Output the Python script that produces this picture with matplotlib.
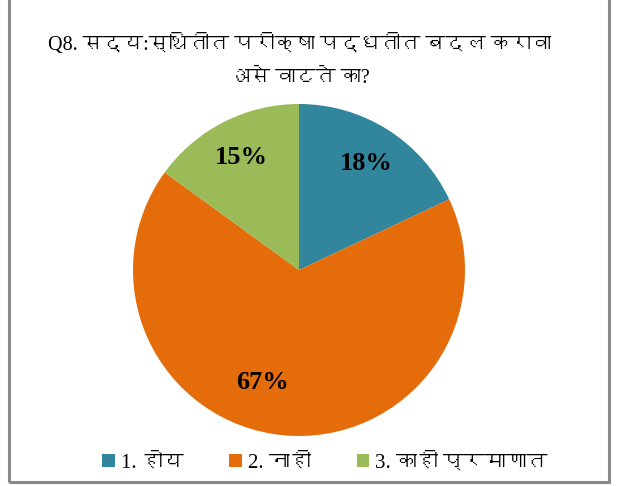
import numpy as np
import matplotlib
matplotlib.use('Agg')
import matplotlib.pyplot as plt
from matplotlib import font_manager
from matplotlib.ft2font import FT2Font
from matplotlib.patches import Rectangle

labels = ['1. होय', '2. नाही', '3. काही प्रमाणात']
shares = [18, 67, 15]
colors = ['#31859C', '#E46C0A', '#9BBB59']
title = 'Q8. सद्य:स्थितीत परीक्षा पद्धतीत बदल करावा\nअसे वाटते का?'


# find an installed family that can draw Devanagari
def devanagari_family():
	for f in font_manager.fontManager.ttflist:
		try:
			ft = FT2Font(f.fname)
			if ft.get_char_index(ord('क')) and ft.get_char_index(ord('ह')):
				return f.name
		except Exception:
			pass
	return None

deva = devanagari_family()
fams = ['Liberation Serif']
if deva:
	fams.append(deva)
fams.append('DejaVu Sans')
plt.rcParams['font.family'] = fams

fig = plt.figure(figsize=(6.19, 4.86), dpi=100)

# outer frame of the chart area
fig.patches.append(Rectangle((9/619, 1 - 482/486), 600/619, 1.0, transform=fig.transFigure,
	fill=False, edgecolor='#8a8a8a', linewidth=2.2))

ax = fig.add_axes([133/619, 50/486, 332/619, 332/486])
wedges, texts, autotexts = ax.pie(shares, colors=colors, startangle=90, counterclock=False,
	autopct='%d%%', pctdistance=0.76, radius=1,
	textprops=dict(fontsize=19, fontweight='bold', color='black', family=['Liberation Serif']))
ax.set_xlim(-1, 1)
ax.set_ylim(-1, 1)

# push the big slice label a little off the centre line
ang = np.deg2rad(-108)
autotexts[1].set_position((0.71*np.cos(ang), 0.71*np.sin(ang)))

fig.text(0.484, 1 - 61/486, title, ha='center', va='center', fontsize=14.5, linespacing=2.0)

leg = fig.legend(wedges, labels, loc='center', bbox_to_anchor=(0.525, 1 - 463/486), ncol=3,
	frameon=False, fontsize=15, handlelength=0.6, handleheight=0.6, handletextpad=0.3,
	columnspacing=2.2)

fig.savefig('out.png', dpi=100)
